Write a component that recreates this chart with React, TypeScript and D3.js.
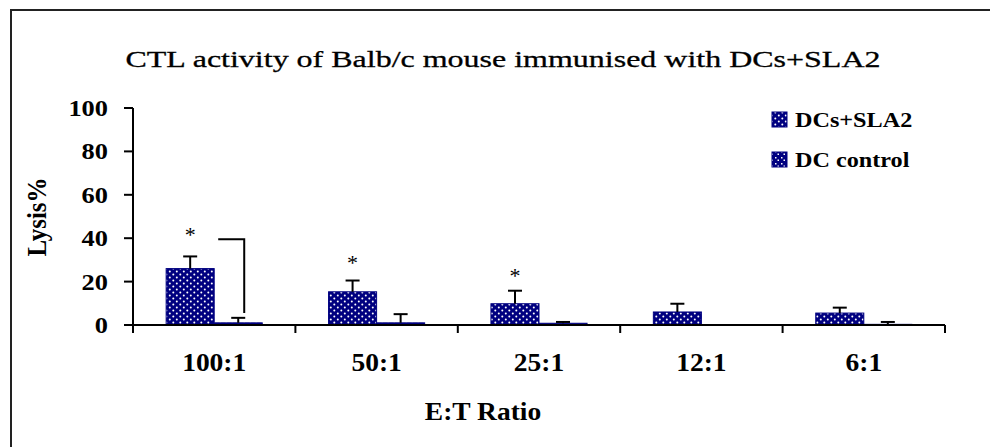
import React from "react";
import * as d3 from "d3";

const categories = ["100:1", "50:1", "25:1", "12:1", "6:1"];
const seriesNames = ["DCs+SLA2", "DC control"];
const dcsValues = [26, 15.3, 9.8, 6, 5.5];
const dcsErrors = [5.6, 5.2, 6, 3.8, 2.5];
const controlValues = [1, 1, 0.8, 0, 0.3];
const controlErrors = [2.3, 4, 0.6, 0, 1.1];
const starLevels = [43, 30, 24]; // asterisks over the first three DCs bars
const bracketLevels = [39.5, 5.5]; // top and bottom of the bracket at 100:1
const yTicks = [0, 20, 40, 60, 80, 100];

const W = 990;
const H = 447;
const left = 133;
const right = 945;
const top = 108;
const bottom = 325;
const navy = "#000080";
const font = "Liberation Serif";
const stretch = 1.1;

const App = () => {
  const y = d3.scaleLinear().domain([0, 100]).range([bottom, top]);
  const x0 = d3.scaleBand().domain(categories).range([left, right]).padding(0);
  const x1 = d3
    .scaleBand()
    .domain(seriesNames)
    .range([0, x0.bandwidth()])
    .paddingInner(0)
    .paddingOuter(0.69);
  const bw = x1.bandwidth();

  const series = [
    { name: seriesNames[0], values: dcsValues, errors: dcsErrors, fill: "url(#dots)" },
    { name: seriesNames[1], values: controlValues, errors: controlErrors, fill: "url(#grid)" },
  ];

  // bracket at first category
  const bx0 = (x0(categories[0]) as number) + (x1(seriesNames[0]) as number) + bw + 4;
  const bx1 = (x0(categories[0]) as number) + (x1(seriesNames[1]) as number) + bw / 2 + 6;

  const boldText = (txt: string, tx: number, ty: number, size: number, anchor: string) => (
    <text
      transform={`translate(${tx},${ty}) scale(${stretch},1)`}
      textAnchor={anchor}
      fontSize={size}
      fontWeight="bold"
      style={{ fontFamily: font }}
    >
      {txt}
    </text>
  );

  return (
    <svg width={W} height={H} style={{ position: "absolute", left: 0, top: 0, background: "#fff" }}>
      <defs>
        <pattern id="dots" width="7" height="6" patternUnits="userSpaceOnUse">
          <rect width="7" height="6" fill={navy} />
          <circle cx="1.8" cy="1.5" r="1" fill="#fff" />
          <circle cx="5.3" cy="4.5" r="1" fill="#fff" />
        </pattern>
        <pattern id="grid" width="6" height="6" patternUnits="userSpaceOnUse">
          <rect width="6" height="6" fill={navy} />
          <rect x="1" y="1" width="1.5" height="1.5" fill="#fff" />
          <rect x="3.5" y="3.5" width="1.5" height="1.5" fill="#fff" />
        </pattern>
      </defs>

      {/* outer frame */}
      <path d={`M11,${H} V10 H${W}`} fill="none" stroke="#222" strokeWidth={2} />

      {/* title */}
      <text
        x={503}
        y={67}
        textAnchor="middle"
        fontSize={24}
        stroke="#000"
        strokeWidth={0.3}
        style={{ fontFamily: font }}
        textLength={755}
        lengthAdjust="spacingAndGlyphs"
      >
        CTL activity of Balb/c mouse immunised with DCs+SLA2
      </text>

      {/* bars */}
      {series.map((s) =>
        categories.map((c, i) => {
          const bx = (x0(c) as number) + (x1(s.name) as number);
          const v = s.values[i];
          if (v <= 0) return null;
          return (
            <rect
              key={s.name + c}
              x={bx}
              y={y(v)}
              width={bw}
              height={y(0) - y(v)}
              fill={s.fill}
              stroke={navy}
              strokeWidth={1}
            />
          );
        })
      )}

      {/* error bars */}
      {series.map((s) =>
        categories.map((c, i) => {
          const cx = (x0(c) as number) + (x1(s.name) as number) + bw / 2;
          const e = s.errors[i];
          if (e <= 0) return null;
          const v = s.values[i];
          return (
            <g key={"e" + s.name + c} stroke="#000" strokeWidth={2}>
              <line x1={cx} x2={cx} y1={y(v)} y2={y(v + e)} />
              <line x1={cx - 7} x2={cx + 7} y1={y(v + e)} y2={y(v + e)} />
            </g>
          );
        })
      )}

      {/* asterisks */}
      {starLevels.map((lv, i) => {
        const cx = (x0(categories[i]) as number) + (x1(seriesNames[0]) as number) + bw / 2;
        return (
          <text key={"s" + i} x={cx} y={y(lv) + 10} textAnchor="middle" fontSize={22} style={{ fontFamily: font }}>
            *
          </text>
        );
      })}

      {/* bracket */}
      <path
        d={`M${bx0},${y(bracketLevels[0])} H${bx1} V${y(bracketLevels[1])}`}
        fill="none"
        stroke="#000"
        strokeWidth={2}
      />

      {/* y axis */}
      <line x1={left} x2={left} y1={top} y2={bottom + 8} stroke="#000" strokeWidth={2} />
      {yTicks.map((t) => (
        <g key={"yt" + t}>
          <line x1={left - 9} x2={left} y1={y(t)} y2={y(t)} stroke="#000" strokeWidth={2} />
          {boldText(String(t), left - 25, y(t) + 8, 24, "end")}
        </g>
      ))}

      {/* x axis */}
      <line x1={left} x2={right} y1={bottom} y2={bottom} stroke="#000" strokeWidth={2} />
      {[...categories.map((c) => x0(c) as number), right].map((px, i) => (
        <line key={"xt" + i} x1={px} x2={px} y1={bottom} y2={bottom + 8} stroke="#000" strokeWidth={2} />
      ))}
      {categories.map((c) => (
        <g key={"xl" + c}>{boldText(c, (x0(c) as number) + x0.bandwidth() / 2, 371, 25, "middle")}</g>
      ))}

      {/* axis titles */}
      {boldText("E:T Ratio", 483, 420, 25, "middle")}
      <text
        transform={`translate(46,217) rotate(-90) scale(1,${stretch})`}
        textAnchor="middle"
        fontSize={25}
        fontWeight="bold"
        style={{ fontFamily: font }}
      >
        Lysis%
      </text>

      {/* legend */}
      {series.map((s, i) => (
        <g key={"lg" + s.name}>
          <rect x={772} y={112 + i * 40} width={15} height={15} fill={s.fill} stroke={navy} strokeWidth={1} />
          {boldText(s.name, 795, 127 + i * 40, 22, "start")}
        </g>
      ))}
    </svg>
  );
};

export default App;
